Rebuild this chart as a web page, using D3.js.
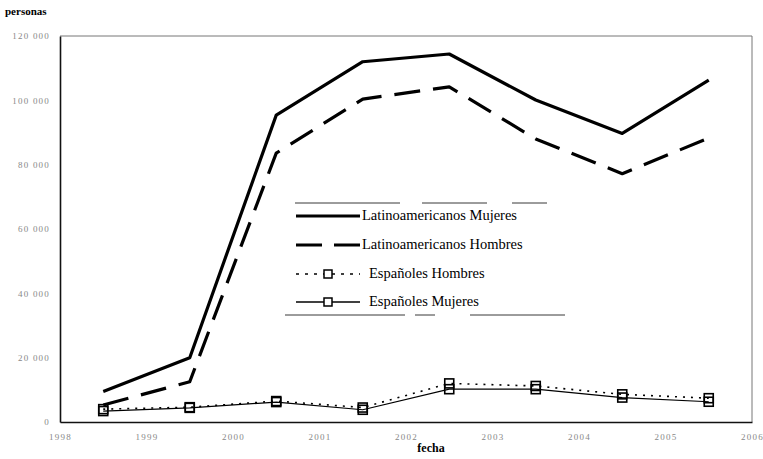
<!DOCTYPE html>
<html>
<head>
<meta charset="utf-8">
<script src="https://cdn.jsdelivr.net/npm/d3@7"></script>
<style>
  body { margin: 0; background: #fff; }
  svg { display: block; }
</style>
</head>
<body>
<div id="chart"></div>
<script>
// Data (points sit mid-year).
var years = [1998.5, 1999.5, 2000.5, 2001.5, 2002.5, 2003.5, 2004.5, 2005.5];
var latMujeres = [9500, 20000, 95400, 112000, 114400, 100100, 89700, 106300];
var latHombres = [5300, 12500, 83600, 100400, 104200, 88000, 77200, 88300];
var espHombres = [4000, 4600, 6500, 4500, 12000, 11200, 8600, 7400];
var espMujeres = [3400, 4400, 6200, 3800, 10200, 10200, 7600, 6300];
var xTicks = [1998, 1999, 2000, 2001, 2002, 2003, 2004, 2005, 2006];
var yTicks = [0, 20000, 40000, 60000, 80000, 100000, 120000];
var seriesNames = ['Latinoamericanos Mujeres', 'Latinoamericanos Hombres', 'Españoles Hombres', 'Españoles Mujeres'];

var W = 763, H = 459;
var margin = {left: 60, right: 11, top: 36, bottom: 36};
var serif = '"Liberation Serif", "DejaVu Serif", serif';

var svg = d3.select('#chart').append('svg')
    .attr('width', W).attr('height', H);

var x = d3.scaleLinear().domain([1998, 2006]).range([margin.left, W - margin.right]);
var y = d3.scaleLinear().domain([0, 120000]).range([H - margin.bottom - 1, margin.top]);

// Frame: grey top/right, black left/bottom
svg.append('line').attr('x1', x(1998)).attr('x2', x(2006)).attr('y1', y(120000)).attr('y2', y(120000))
    .attr('stroke', '#777').attr('stroke-width', 1);
svg.append('line').attr('x1', x(2006)).attr('x2', x(2006)).attr('y1', y(120000)).attr('y2', y(0))
    .attr('stroke', '#777').attr('stroke-width', 1);

// Axes
function fmt(d) { return d === 0 ? '0' : d3.format(',')(d).replace(/,/g, ' '); }

var yAxis = svg.append('g')
    .attr('transform', 'translate(' + x(1998) + ',0)')
    .call(d3.axisLeft(y).tickValues(yTicks).tickSize(0).tickPadding(10).tickFormat(fmt));
var xAxis = svg.append('g')
    .attr('transform', 'translate(0,' + y(0) + ')')
    .call(d3.axisBottom(x).tickValues(xTicks).tickSize(0).tickPadding(12).tickFormat(d3.format('d')));

[yAxis, xAxis].forEach(function (g) {
    g.select('.domain').attr('stroke', '#111').attr('stroke-width', 1.6);
    g.selectAll('text')
        .attr('font-family', serif)
        .attr('font-size', 9)
        .attr('fill', '#888')
        .attr('letter-spacing', 1.2);
});

// Titles
svg.append('text').attr('x', 5).attr('y', 15)
    .attr('font-family', serif).attr('font-weight', 'bold').attr('font-size', 11)
    .text('personas');
svg.append('text').attr('x', 431).attr('y', 452).attr('text-anchor', 'middle')
    .attr('font-family', serif).attr('font-weight', 'bold').attr('font-size', 12)
    .text('fecha');

// Series
var line = d3.line().x(function (d) { return x(d[0]); }).y(function (d) { return y(d[1]); });
function pts(vals) { return years.map(function (yr, i) { return [yr, vals[i]]; }); }

var styles = [
    {vals: latMujeres, width: 3.2, dash: null, marker: false},
    {vals: latHombres, width: 3.2, dash: '26,13', marker: false},
    {vals: espHombres, width: 1.6, dash: '2,6', marker: true},
    {vals: espMujeres, width: 1.2, dash: null, marker: true}
];

var plot = svg.append('g');
styles.forEach(function (s) {
    plot.append('path')
        .datum(pts(s.vals))
        .attr('d', line)
        .attr('fill', 'none')
        .attr('stroke', '#000')
        .attr('stroke-width', s.width)
        .attr('stroke-dasharray', s.dash)
        .attr('stroke-linejoin', 'round');
});
styles.forEach(function (s) {
    if (!s.marker) return;
    plot.selectAll(null)
        .data(pts(s.vals))
        .enter().append('rect')
        .attr('x', function (d) { return x(d[0]) - 4.5; })
        .attr('y', function (d) { return y(d[1]) - 4.5; })
        .attr('width', 9).attr('height', 9)
        .attr('fill', 'none')
        .attr('stroke', '#000')
        .attr('stroke-width', 1.6);
});

// Legend
var lg = svg.append('g');
lg.append('line').attr('x1', 295).attr('x2', 575).attr('y1', 203).attr('y2', 203)
    .attr('stroke', '#222').attr('stroke-width', 0.9).attr('stroke-dasharray', '105,22,65,25,35');
lg.append('line').attr('x1', 285).attr('x2', 575).attr('y1', 315).attr('y2', 315)
    .attr('stroke', '#222').attr('stroke-width', 0.9).attr('stroke-dasharray', '120,10,20,35,95,15,45');

var legendY = [216, 245, 274, 302];
seriesNames.forEach(function (name, i) {
    var s = styles[i];
    var ly = legendY[i];
    lg.append('line')
        .attr('x1', 296).attr('x2', 360).attr('y1', ly).attr('y2', ly)
        .attr('stroke', '#000').attr('stroke-width', i === 3 ? 1.6 : s.width)
        .attr('stroke-dasharray', i === 1 ? '26,12,26' : (i === 2 ? '3,6' : null));
    if (s.marker) {
        lg.append('rect').attr('x', 324).attr('y', ly - 4).attr('width', 8).attr('height', 8)
            .attr('fill', '#fff').attr('stroke', '#000').attr('stroke-width', 1.5);
    }
    lg.append('text')
        .attr('x', i < 2 ? 362 : 369).attr('y', ly + 4)
        .attr('font-family', serif).attr('font-size', 14.5)
        .text(name);
});
</script>
</body>
</html>
